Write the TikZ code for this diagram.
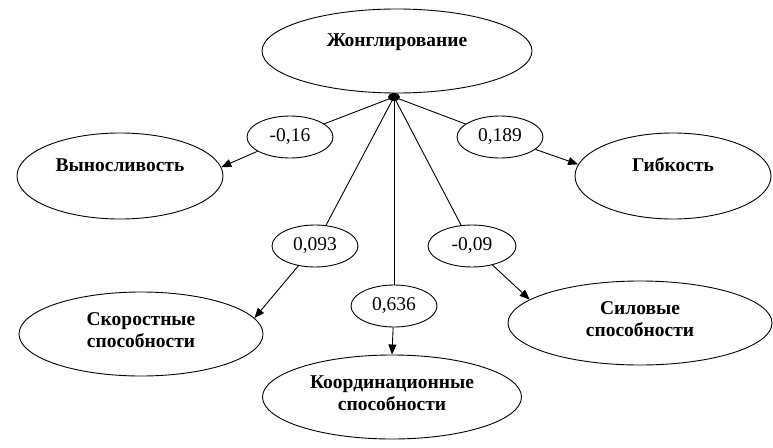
\documentclass[tikz,border=0pt]{standalone}
\usepackage{fontspec}
\setmainfont{Liberation Serif}
\usetikzlibrary{shapes.geometric,arrows.meta}
\begin{document}
\begin{tikzpicture}[x=1pt,y=-1pt,
  every node/.style={font=\fontsize{19.5}{21.5}\selectfont},
  bigell/.style={ellipse,draw,line width=0.9pt,inner sep=0pt,align=center,font=\fontsize{19.5}{21.5}\selectfont\bfseries},
  oneline/.style={text depth=22pt},
  twoline/.style={text depth=8pt},
  coef/.style={ellipse,draw,line width=0.9pt,inner sep=0pt,minimum width=86pt,minimum height=42pt},
  conn/.style={line width=0.9pt},
  arr/.style={line width=0.9pt,-{Triangle[length=10pt,width=8pt]}}]
\useasboundingbox (0,0) rectangle (773,447);
\node[bigell,oneline,minimum width=270pt,minimum height=84pt] (jong) at (397,51) {Жонглирование};
\node[bigell,oneline,minimum width=206pt,minimum height=86pt] (vyn) at (120,176) {Выносливость};
\node[bigell,oneline,minimum width=196pt,minimum height=86pt] (gib) at (673,176) {Гибкость};
\node[bigell,twoline,minimum width=244pt,minimum height=84pt] (skor) at (141,334) {Скоростные\\способности};
\node[bigell,twoline,minimum width=259pt,minimum height=84pt] (koord) at (392,397) {Координационные\\способности};
\node[bigell,twoline,minimum width=264pt,minimum height=84pt] (sil) at (640,323) {Силовые\\способности};
\node[coef] (m1) at (290,137) {-0,16};
\node[coef] (m2) at (500,137) {0,189};
\node[coef] (m3) at (315,246) {0,093};
\node[coef,minimum width=88pt] (m4) at (472,246) {-0,09};
\node[coef] (m5) at (394,306) {0,636};
\coordinate (hub) at (394,97);
\draw[conn] (hub) -- (m1);
\draw[conn] (hub) -- (m2);
\draw[conn] (hub) -- (m3);
\draw[conn] (hub) -- (m4);
\draw[conn] (hub) -- (m5);
\fill (hub) ellipse (6pt and 4pt);
\draw[arr] (m1) -- (vyn.5);
\draw[arr] (m2) -- (gib.173);
\draw[arr] (m3) -- (skor.8);
\draw[arr] (m4) -- (sil.168);
\draw[arr] (m5) -- (koord.north);
\end{tikzpicture}
\end{document}
